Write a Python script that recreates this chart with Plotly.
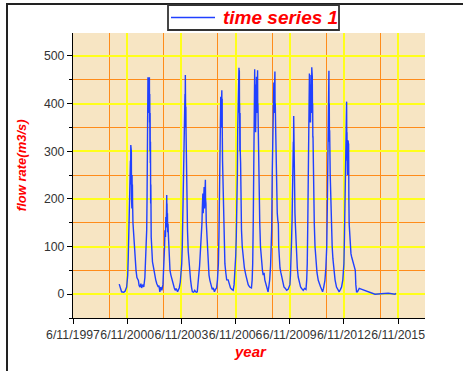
import plotly.graph_objects as go

# ---- data ----
# time in decimal years, flow rate in m3/s
t_year = [
    2000.00, 2000.06, 2000.13, 2000.25, 2000.32, 2000.41, 2000.47, 2000.50, 2000.54, 2000.56,
    2000.58, 2000.60, 2000.62, 2000.63, 2000.64, 2000.645, 2000.655, 2000.66, 2000.67, 2000.68,
    2000.69, 2000.70, 2000.71, 2000.72, 2000.73, 2000.74,
    2000.76, 2000.80, 2000.83, 2000.88, 2000.93, 2000.98, 2001.06, 2001.10, 2001.15, 2001.20,
    2001.24, 2001.30, 2001.36, 2001.42,
    2001.46, 2001.50, 2001.52, 2001.54, 2001.55, 2001.57, 2001.58, 2001.59, 2001.60, 2001.61,
    2001.62, 2001.63, 2001.64, 2001.65, 2001.66,
    2001.67, 2001.68, 2001.69, 2001.70, 2001.71, 2001.72, 2001.73, 2001.74, 2001.75, 2001.77,
    2001.80, 2001.84, 2001.88,
    2001.92, 2001.97, 2002.02, 2002.08, 2002.16, 2002.20, 2002.25, 2002.30, 2002.36, 2002.42,
    2002.48, 2002.51, 2002.53, 2002.56, 2002.58, 2002.60, 2002.62, 2002.63, 2002.64, 2002.645,
    2002.66, 2002.67, 2002.68,
    2002.70, 2002.72, 2002.74, 2002.78, 2002.81, 2002.86, 2002.92, 2002.98, 2003.05, 2003.10,
    2003.15, 2003.23, 2003.28, 2003.32, 2003.38,
    2003.44, 2003.46, 2003.49, 2003.51, 2003.55, 2003.59, 2003.62, 2003.64, 2003.65, 2003.66,
    2003.665, 2003.675, 2003.68,
    2003.69, 2003.70, 2003.71, 2003.72, 2003.73, 2003.75, 2003.78, 2003.82, 2003.86, 2003.90,
    2003.95, 2004.00, 2004.05, 2004.12, 2004.18, 2004.23, 2004.28, 2004.32,
    2004.36, 2004.38, 2004.45, 2004.50, 2004.52, 2004.55, 2004.58, 2004.60, 2004.63, 2004.65,
    2004.67, 2004.69, 2004.70, 2004.72, 2004.74, 2004.76, 2004.77, 2004.78, 2004.80, 2004.82,
    2004.84,
    2004.88, 2004.93, 2004.97, 2005.02, 2005.08, 2005.15, 2005.21, 2005.27, 2005.33, 2005.39,
    2005.44,
    2005.47, 2005.49, 2005.52, 2005.54, 2005.56, 2005.58, 2005.60, 2005.62, 2005.63, 2005.64,
    2005.65, 2005.66, 2005.67, 2005.68,
    2005.69, 2005.70, 2005.705, 2005.72, 2005.74, 2005.76, 2005.78, 2005.81, 2005.85, 2005.90,
    2005.95,
    2006.03, 2006.10, 2006.16, 2006.24, 2006.31, 2006.36,
    2006.40, 2006.45, 2006.48, 2006.51, 2006.54, 2006.56, 2006.58, 2006.59, 2006.60, 2006.61,
    2006.62, 2006.63, 2006.64,
    2006.65, 2006.66, 2006.665, 2006.68, 2006.69, 2006.70, 2006.72, 2006.74, 2006.77, 2006.81,
    2006.86, 2006.93,
    2007.01, 2007.07, 2007.14, 2007.22, 2007.32, 2007.36,
    2007.39, 2007.42, 2007.44, 2007.46, 2007.48, 2007.49, 2007.50, 2007.51, 2007.52, 2007.53,
    2007.54, 2007.55, 2007.56, 2007.57, 2007.58, 2007.59, 2007.60,
    2007.61, 2007.62, 2007.63, 2007.64, 2007.65, 2007.66, 2007.67, 2007.68, 2007.70, 2007.72,
    2007.75, 2007.78, 2007.82, 2007.88,
    2007.93, 2007.97, 2008.02, 2008.06, 2008.10, 2008.15, 2008.20, 2008.24, 2008.28, 2008.33,
    2008.38, 2008.42, 2008.44, 2008.47, 2008.50, 2008.53, 2008.56, 2008.57, 2008.58, 2008.59,
    2008.60, 2008.61, 2008.62, 2008.63,
    2008.64, 2008.66, 2008.68, 2008.70, 2008.72, 2008.75, 2008.78, 2008.81, 2008.83, 2008.86,
    2008.90, 2008.95, 2009.00, 2009.06, 2009.12, 2009.20, 2009.27, 2009.35, 2009.41, 2009.45,
    2009.48, 2009.51, 2009.54, 2009.57, 2009.60, 2009.62, 2009.64, 2009.65, 2009.66, 2009.67,
    2009.675, 2009.69,
    2009.71, 2009.73, 2009.75, 2009.78, 2009.82, 2009.86, 2009.91, 2009.97, 2010.04, 2010.10,
    2010.19, 2010.26, 2010.34, 2010.38,
    2010.41, 2010.44, 2010.47, 2010.50, 2010.52, 2010.53, 2010.54, 2010.545, 2010.55, 2010.56,
    2010.57, 2010.58, 2010.59, 2010.60, 2010.61, 2010.62, 2010.63,
    2010.64, 2010.65, 2010.66, 2010.665, 2010.675, 2010.68, 2010.69, 2010.70, 2010.71, 2010.72,
    2010.73, 2010.75, 2010.77, 2010.80, 2010.84,
    2010.89, 2010.95, 2011.02, 2011.08, 2011.15, 2011.21, 2011.26, 2011.31, 2011.35,
    2011.39, 2011.44, 2011.49, 2011.52, 2011.54, 2011.57, 2011.59, 2011.60, 2011.61, 2011.62,
    2011.63, 2011.64, 2011.65,
    2011.665, 2011.68, 2011.70, 2011.72, 2011.75, 2011.79, 2011.83, 2011.88, 2011.95, 2012.03,
    2012.10, 2012.18, 2012.25, 2012.31, 2012.38,
    2012.42, 2012.44, 2012.47, 2012.51, 2012.54, 2012.57, 2012.58, 2012.59, 2012.60, 2012.61,
    2012.62, 2012.63, 2012.64, 2012.65,
    2012.67, 2012.68, 2012.69, 2012.70, 2012.715, 2012.73, 2012.76, 2012.79, 2012.83, 2012.87,
    2012.93, 2012.99,
    2013.04, 2013.07, 2013.10, 2013.14, 2013.19, 2013.22, 2013.25, 2013.29, 2013.36, 2014.16,
    2014.50, 2014.90, 2015.27, 2015.32,
]
flow_rate = [
    21, 12, 5, 4, 6, 15, 40, 78, 150, 190,
    232, 200, 280, 230, 313, 260, 305, 240, 300, 200,
    240, 180, 250, 190, 230, 190,
    150, 120, 107, 70, 50, 35, 29, 18, 15, 22,
    13, 20, 15, 35,
    65, 110, 134, 200, 260, 380, 330, 455, 400, 450,
    380, 455, 420, 455, 380,
    455, 360, 420, 300, 380, 275, 320, 190, 230, 120,
    90, 68, 60,
    50, 38, 30, 22, 15, 18, 5, 15, 8, 20,
    65, 100, 134, 120, 162, 140, 180, 208, 150, 190,
    141, 170, 130,
    148, 125, 107, 75, 50, 40, 30, 20, 13, 8,
    12, 5, 10, 13, 25,
    50, 64, 100, 149, 200, 274, 350, 420, 380, 460,
    390, 440, 350,
    393, 340, 309, 250, 204, 160, 134, 90, 64, 45,
    30, 15, 5, 4, 8, 5, 4, 5,
    15, 30, 60, 90, 100, 130, 149, 180, 211, 170,
    220, 180, 225, 180, 230, 200, 240, 200, 190, 150,
    134,
    90, 64, 40, 29, 18, 10, 13, 5, 10, 13,
    30,
    50, 64, 120, 203, 280, 350, 300, 414, 350, 420,
    380, 425, 380, 428,
    360, 410, 344, 280, 240, 180, 134, 90, 64, 45,
    30,
    30, 20, 13, 10, 8, 20,
    40, 80, 120, 162, 250, 344, 420, 360, 470, 400,
    440, 475, 390,
    470, 380, 400, 300, 380, 300, 275, 180, 134, 100,
    78, 55,
    40, 28, 20, 15, 13, 30,
    64, 150, 240, 350, 420, 380, 472, 380, 440, 360,
    440, 340, 420, 350, 420, 380, 456,
    400, 440, 380, 470, 400, 470, 380, 400, 344, 280,
    204, 150, 100, 60,
    50, 40, 45, 30, 25, 20, 10, 5, 15, 30,
    60, 100, 134, 250, 344, 400, 444, 380, 450, 464,
    400, 440, 467, 380,
    400, 350, 296, 250, 204, 170, 155, 148, 100, 78,
    55, 45, 36, 25, 15, 12, 8, 10, 15, 20,
    40, 64, 110, 155, 200, 260, 320, 280, 374, 310,
    300, 240,
    200, 170, 148, 110, 78, 55, 36, 25, 15, 12,
    8, 12, 10, 30,
    64, 150, 274, 380, 440, 463, 380, 420, 360, 440,
    380, 420, 360, 430, 380, 460, 400,
    420, 380, 476, 420, 470, 400, 456, 380, 400, 330,
    330, 274, 200, 148, 100,
    64, 45, 29, 20, 15, 10, 5, 12, 20,
    29, 55, 100, 180, 274, 380, 440, 400, 469, 380,
    400, 320, 344,
    300, 253, 220, 190, 140, 100, 75, 50, 30, 15,
    10, 5, 10, 15, 30,
    50, 64, 120, 204, 300, 380, 340, 404, 320, 340,
    280, 300, 250, 323,
    280, 320, 250, 316, 200, 148, 120, 100, 85, 78,
    70, 64,
    58, 50, 20, 5, 5, 8, 12, 12, 11, 0,
    1, 2, 0, 2,
]

x_tick_vals = [1997.44, 2000.44, 2003.44, 2006.44, 2009.44, 2012.44, 2015.44]
x_tick_text = ["6/11/1997", "6/11/2000", "6/11/2003", "6/11/2006",
               "6/11/2009", "6/11/2012", "6/11/2015"]
x_minor_vals = [1999.47, 2002.45, 2005.46, 2008.46, 2011.45, 2014.44]
x_range = [1997.44, 2016.93]
y_range = [-50, 548]

series_name = "time series 1"
x_title = "year"
y_title = "flow rate(m3/s)"

# ---- styling ----
FONT = "Arial, Liberation Sans, sans-serif"
RED = "#FF0000"
YELLOW = "#FFFF1A"
ORANGE = "#FF8C1A"
BLUE = "#2040FF"
LINE_W = 1.4

fig = go.Figure()
fig.add_trace(go.Scatter(
    x=t_year, y=flow_rate, mode="lines", name=series_name,
    line=dict(color=BLUE, width=LINE_W), showlegend=False,
))

fig.update_layout(
    width=463, height=371,
    margin=dict(l=73, r=38, t=33, b=53, autoexpand=False),
    paper_bgcolor="white",
    plot_bgcolor="#F7E5C3",
    font=dict(family=FONT, size=12, color="#333333"),
    showlegend=False,
    xaxis=dict(
        range=x_range, tickmode="array", tickvals=x_tick_vals, ticktext=x_tick_text,
        tickangle=0, automargin=False,
        showgrid=True, gridcolor=YELLOW, gridwidth=1.5,
        showline=True, linecolor="black", linewidth=1.2,
        ticks="outside", ticklen=5, tickcolor="black", tickwidth=1,
        zeroline=False,
        tickfont=dict(family=FONT, size=12.3, color="#333333"),
        minor=dict(tickmode="array", tickvals=x_minor_vals, showgrid=True,
                   gridcolor=ORANGE, gridwidth=1.2, ticks=""),
    ),
    yaxis=dict(
        range=y_range, tickmode="linear", tick0=0, dtick=100, automargin=False,
        showgrid=True, gridcolor=YELLOW, gridwidth=1.5,
        showline=True, linecolor="black", linewidth=1.2,
        ticks="outside", ticklen=5, tickcolor="black", tickwidth=1,
        zeroline=False,
        tickfont=dict(family=FONT, size=12.3, color="#333333"),
        minor=dict(tick0=50, dtick=100, showgrid=True, gridcolor=ORANGE,
                   gridwidth=1.2, ticks="outside", ticklen=3, tickcolor="black"),
    ),
)

# axis titles
fig.add_annotation(
    text=x_title, xref="paper", yref="paper", x=0.503, y=-0.119,
    showarrow=False, xanchor="center", yanchor="middle",
    font=dict(family=FONT, size=15, color=RED, weight="bold", style="italic"),
)
fig.add_annotation(
    text=y_title, xref="paper", yref="paper", x=-0.146, y=0.535,
    showarrow=False, textangle=-90, xanchor="center", yanchor="middle",
    font=dict(family=FONT, size=13, color=RED, weight="bold", style="italic"),
)

# outer frame
fig.add_shape(
    type="rect", xref="paper", yref="paper",
    x0=-0.1875, x1=1.25, y0=-0.35, y1=1.102,
    line=dict(color="#222222", width=2), fillcolor="rgba(0,0,0,0)", layer="above",
)

# legend box (drawn as shapes + text so its size matches the original)
fig.add_shape(
    type="rect", xref="paper", yref="paper",
    x0=0.2699, x1=0.7557, y0=1.0105, y1=1.0982,
    line=dict(color="#333333", width=1.8), fillcolor="white", layer="above",
)
fig.add_shape(
    type="line", xref="paper", yref="paper",
    x0=0.2784, x1=0.4034, y0=1.0544, y1=1.0544,
    line=dict(color=BLUE, width=LINE_W), layer="above",
)
fig.add_annotation(
    text=series_name, xref="paper", yref="paper", x=0.4205, y=1.0544,
    showarrow=False, xanchor="left", yanchor="middle",
    font=dict(family=FONT, size=19, color=RED, weight="bold", style="italic"),
)

fig.write_html("out.html")
